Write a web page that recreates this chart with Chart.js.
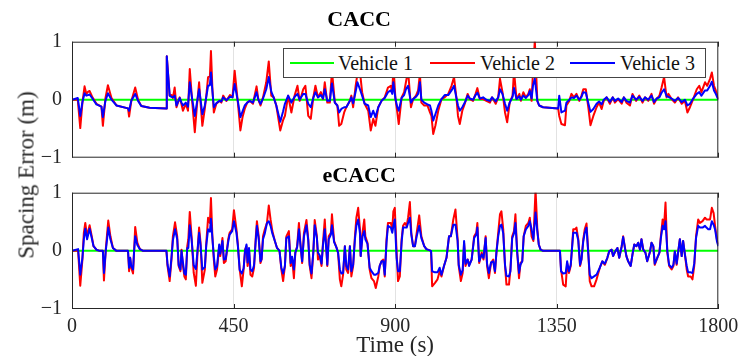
<!DOCTYPE html>
<html>
<head>
<meta charset="utf-8">
<script src="https://cdn.jsdelivr.net/npm/chart.js@4.4.0/dist/chart.umd.min.js"></script>
<style>
  body { margin: 0; background: #fff; }
  #wrap { position: relative; width: 741px; height: 356px; overflow: hidden; font-family: "Liberation Serif", serif; }
  canvas { position: absolute; left: 0; }
  #ylabel {
    position: absolute; left: 26px; top: 175px; white-space: nowrap;
    font-size: 23px; line-height: 1; color: #262626;
    transform: translate(-50%, -50%) rotate(-90deg);
  }
  #legend {
    position: absolute; left: 283px; top: 48px; width: 421px; height: 28px;
    border: 1px solid #444; background: #fff; z-index: 5;
  }
  #legend .ln { position: absolute; top: 13px; height: 2px; }
  #legend .tx { position: absolute; top: 0; line-height: 28px; font-size: 20px; color: #111; white-space: nowrap; }
</style>
</head>
<body>
<div id="wrap">
  <canvas id="caccChart" width="741" height="165" style="top:0"></canvas>
  <canvas id="ecaccChart" width="741" height="196" style="top:165px"></canvas>
  <div id="ylabel">Spacing Error (m)</div>
  <div id="legend">
    <div class="ln" style="left:6px;width:44px;background:#00ff00"></div>
    <span class="tx" style="left:54px">Vehicle 1</span>
    <div class="ln" style="left:146px;width:45px;background:#ff0000"></div>
    <span class="tx" style="left:196px">Vehicle 2</span>
    <div class="ln" style="left:286px;width:45px;background:#0000ff"></div>
    <span class="tx" style="left:336px">Vehicle 3</span>
  </div>
</div>
<script>
// axis ticks
const xTicks = [0, 450, 900, 1350, 1800];
const yTicks = [-1, 0, 1];

// Vehicle 1 (leader) has no spacing error
const v1Time = [0, 1800];
const v1Error = [0, 0];

// CACC panel, time (s) and spacing error (m)
const caccTime = [
  0, 16, 23, 29, 35, 40, 45, 49, 57, 68, 82, 86, 93, 100, 110, 124, 156, 159, 165, 176,
  184, 193, 216, 263, 264, 272, 277, 281, 286, 291, 300, 305, 309, 317, 323, 328, 335, 342, 348, 354,
  358, 363, 370, 374, 379, 384, 387, 391, 395, 402, 411, 416, 421, 430, 440, 447, 453, 462, 469, 475,
  481, 488, 495, 504, 514, 519, 525, 532, 541, 548, 555, 562, 569, 580, 588,
  593, 602, 611, 620, 628, 634, 639, 644, 650, 658, 665, 672, 678, 685, 693, 699, 704, 711, 718, 724,
  732, 739, 744, 750, 758, 764, 774, 778, 783, 790, 795, 802, 808, 815, 825, 832, 839, 845, 853, 862,
  871, 880, 888, 892, 895, 901, 906, 910, 918, 925, 930, 936, 944, 950, 958, 964, 969, 973, 981, 990,
  997, 1001, 1006, 1012, 1020, 1029, 1038, 1048, 1057, 1064, 1071, 1075, 1080, 1087, 1094, 1102, 1108, 1117, 1124, 1129,
  1136, 1145, 1154, 1164, 1170, 1180, 1187, 1192,
  1199, 1206, 1212, 1219, 1227, 1231, 1238, 1246, 1250, 1257, 1264, 1271, 1275, 1280, 1284, 1289, 1296, 1301, 1312, 1354,
  1357, 1363, 1373, 1377, 1385, 1391, 1398, 1405, 1413, 1419, 1424, 1431, 1438, 1444, 1452, 1461, 1468, 1475, 1481, 1489,
  1498, 1506, 1512, 1521, 1531, 1537, 1544, 1554, 1561, 1571, 1580, 1589, 1596, 1605, 1614, 1621, 1628, 1636, 1642, 1649,
  1656, 1661, 1670, 1679, 1688, 1698, 1707, 1714, 1721, 1730, 1740, 1747, 1753, 1763, 1769, 1777, 1782, 1788, 1793, 1800
];
const caccV2 = [
  0, 0, -0.49, -0.05, 0.23, 0.10, 0.14, 0.15, 0.04, -0.07, -0.12, -0.45, 0.02, 0.25, 0.03, -0.10, -0.15, -0.29, -0.03, 0.21,
  0.0, -0.11, -0.14, -0.15, 0.75, 0.07, 0.08, 0.03, 0.21, -0.13, 0.04, -0.08, -0.19, -0.07, -0.19, 0.53, -0.05, -0.56, -0.10, 0.30,
  -0.05, -0.45, -0.15, 0.07, 0.39, 0.40, 0.84, 0.20, -0.22, -0.07, -0.02, -0.05, 0.07, -0.02, 0.08, 0.04, 0.50, -0.05, -0.53, -0.30,
  -0.16, -0.05, -0.02, -0.07, 0.23, 0.0, -0.10, 0.04, 0.30, 0.66, 0.07, 0.04, -0.10, -0.53, -0.35,
  -0.28, 0.07, -0.22, 0.07, 0.24, -0.02, 0.07, 0.18, 0.24, -0.28, -0.33, 0.04, 0.24, 0.04, 0.13, 0.01, 0.30, -0.05, -0.05, 0.50,
  -0.05, -0.10, -0.45, -0.42, -0.22, -0.13, -0.02, 0.07, -0.13, 0.24, 0.45, 0.48, 0.13, -0.07, -0.19, -0.53, -0.33, -0.45, -0.13, -0.02,
  0.04, 0.21, 0.24, 0.13, 0.55, 0.01, -0.22, -0.42, 0.04, 0.13, 0.30, 0.50, -0.13, 0.01, 0.07, 0.16, 0.45, -0.05, -0.10, -0.10,
  -0.22, -0.28, -0.59, -0.45, -0.19, 0.01, 0.04, 0.10, 0.24, 0.39, 0.01, -0.28, -0.42, -0.19, -0.07, 0.10, 0.01, -0.02, 0.10, 0.20,
  0.01, 0.01, -0.02, -0.05, 0.04, -0.07, 0.04, 0.36,
  0.13, -0.22, -0.39, -0.05, 0.07, 0.50, 0.01, 0.10, -0.02, 0.13, 0.04, 0.10, 0.18, -0.02, 0.50, 1.02, -0.02, -0.10, -0.13, -0.15,
  -0.28, -0.42, -0.44, -0.10, -0.02, 0.10, 0.04, 0.10, -0.02, 0.07, 0.18, 0.18, -0.13, -0.44, -0.28, -0.13, -0.05, -0.16, -0.02, 0.04,
  -0.07, 0.04, -0.05, 0.01, -0.07, 0.04, -0.05, -0.10, 0.10, -0.02, 0.07, -0.05, 0.04, -0.02, 0.10, -0.07, 0.01, 0.07, 0.21, 0.39,
  0.04, 0.10, 0.01, -0.05, 0.04, -0.07, -0.02, -0.22, -0.13, 0.01, 0.18, 0.24, 0.13, 0.30, 0.24, 0.36, 0.47, 0.24, 0.16, 0.01
];
const caccV3 = [
  0, 0.03, -0.28, -0.04, 0.11, 0.07, 0.08, 0.09, 0.02, -0.08, -0.12, -0.30, -0.02, 0.11, 0.0, -0.10, -0.15, -0.19, -0.02, 0.10,
  -0.02, -0.11, -0.14, -0.15, 0.75, 0.07, 0.05, 0.04, 0.07, -0.10, 0.03, -0.05, -0.10, -0.05, -0.12, 0.30, 0.0, -0.28, -0.05, 0.18,
  0.0, -0.25, -0.10, 0.05, 0.24, 0.25, 0.47, 0.15, -0.13, -0.06, -0.02, -0.03, 0.04, -0.01, 0.05, 0.04, 0.27, -0.03, -0.30, -0.20,
  -0.10, -0.05, -0.02, -0.05, 0.13, 0.0, -0.07, 0.02, 0.18, 0.39, 0.14, 0.03, -0.10, -0.38, -0.20,
  -0.07, 0.07, -0.05, 0.05, 0.10, 0.0, 0.05, 0.10, 0.10, -0.07, -0.13, 0.03, 0.13, 0.04, 0.08, 0.02, 0.18, -0.02, -0.02, 0.28,
  -0.05, -0.10, -0.22, -0.16, -0.13, -0.13, -0.02, 0.04, -0.06, 0.14, 0.30, 0.18, 0.07, -0.07, -0.10, -0.30, -0.19, -0.30, -0.13, -0.02,
  0.03, 0.13, 0.16, 0.10, 0.30, 0.01, -0.13, -0.19, 0.03, 0.08, 0.18, 0.24, -0.05, 0.01, 0.05, 0.10, 0.30, 0.0, -0.05, -0.08,
  -0.10, -0.19, -0.36, -0.25, -0.10, 0.01, 0.08, 0.08, 0.16, 0.24, 0.02, -0.10, -0.19, -0.13, -0.05, 0.07, 0.02, 0.0, 0.08, 0.12,
  0.02, 0.04, 0.0, -0.02, 0.04, -0.03, 0.04, 0.18,
  0.10, -0.07, -0.19, -0.05, 0.05, 0.20, 0.01, 0.06, 0.0, 0.07, 0.03, 0.08, 0.15, 0.02, 0.25, 0.36, -0.02, -0.10, -0.13, -0.15,
  0.07, -0.22, -0.19, -0.05, 0.0, 0.04, 0.03, 0.07, 0.0, 0.05, 0.13, 0.12, -0.06, -0.21, -0.16, -0.07, -0.03, -0.08, 0.0, 0.04,
  -0.04, 0.04, -0.02, 0.02, -0.04, 0.04, -0.02, -0.05, 0.07, 0.0, 0.05, -0.02, 0.04, 0.0, 0.07, -0.04, 0.02, 0.04, 0.12, 0.18,
  0.06, 0.05, 0.02, -0.02, 0.03, -0.04, 0.0, -0.10, -0.07, 0.02, 0.10, 0.13, 0.07, 0.16, 0.16, 0.24, 0.31, 0.16, 0.10, 0.0
];

// eCACC panel
const ecaccTime = [
  0, 17, 23, 29, 33, 37, 42, 49, 55, 60, 68, 77, 86, 89, 94, 98, 101, 107, 114, 124,
  156, 159, 162, 165, 170, 173, 176, 182, 189, 198, 263, 266, 272, 277, 281, 287, 293, 297, 302, 305,
  309, 313, 317, 321, 324, 328, 333, 339, 345, 351, 354, 358, 363, 370, 374, 379, 384, 387, 391, 395,
  399, 404, 410, 413, 419, 423, 428, 435, 439, 446, 451, 458, 462, 467, 473, 478, 482, 486, 489, 493,
  497, 502, 507, 512, 515, 520, 525, 528, 532, 537, 543, 548, 553, 558, 565, 571, 578, 583, 588,
  593, 597, 604, 609, 613, 618, 622, 627, 632, 636, 641, 646, 653, 658, 662, 667, 672, 676, 682, 685,
  690, 695, 699, 704, 709, 711, 715, 721, 724, 730, 737, 741, 746, 750, 755, 760, 764, 769, 774, 778,
  783, 788, 792, 797, 802, 804, 809, 814, 817, 823, 829, 834, 841, 846, 853, 857, 862, 867, 871, 876,
  880, 888, 892, 895, 899, 904, 908, 913, 918, 922, 927, 932, 936, 941, 945, 950, 955, 960, 967, 973,
  981, 987, 1000, 1003, 1011, 1018, 1024, 1029, 1036, 1043, 1050, 1055, 1062, 1068, 1074, 1077, 1083, 1088, 1092, 1096,
  1102, 1106, 1113, 1120, 1126, 1129, 1134, 1141, 1146, 1152, 1156, 1161, 1167, 1173, 1178, 1182, 1187, 1192, 1196,
  1201, 1206, 1210, 1217, 1221, 1226, 1231, 1235, 1240, 1245, 1249, 1254, 1258, 1264, 1271, 1275, 1280, 1285, 1287, 1291,
  1296, 1300, 1305, 1312, 1359, 1362, 1368, 1375, 1379, 1384, 1389, 1396, 1401, 1405, 1410, 1415, 1419, 1424, 1428, 1433,
  1438, 1442, 1447, 1454, 1461, 1470, 1477, 1484, 1491, 1496, 1503, 1507, 1513, 1519, 1524, 1531, 1535, 1540, 1544, 1549,
  1556, 1561, 1566, 1572, 1577, 1582, 1586, 1591, 1597, 1602, 1610, 1614, 1619, 1623, 1630, 1636, 1640, 1645, 1649, 1653,
  1658, 1663, 1670, 1675, 1679, 1684, 1688, 1693, 1698, 1702, 1707, 1712, 1716, 1723, 1728, 1733, 1738, 1744, 1749, 1756,
  1763, 1767, 1772, 1777, 1782, 1787, 1791, 1796, 1800
];
const ecaccV2 = [
  0, 0, -0.60, -0.15, 0.31, 0.48, 0.25, 0.44, 0.25, 0.08, 0.02, 0, 0, -0.51, 0.02, 0.31, 0.52, 0.25, 0.05, 0,
  0, -0.35, -0.12, -0.29, -0.39, 0.0, 0.41, 0.14, 0.03, 0, 0, -0.26, -0.52, -0.15, 0.25, 0.49, 0.25, -0.26, -0.35, 0.02,
  -0.26, -0.44, -0.49, 0.08, 0.20, 0.67, 0.25, -0.38, -0.60, 0.14, 0.40, 0.14, -0.55, -0.32, 0.14, 0.57, 0.48, 0.91, 0.25, -0.15,
  -0.44, -0.32, 0.08, -0.09, 0.22, -0.21, -0.18, 0.20, 0.31, 0.37, 0.70, 0.37, 0.11, -0.32, -0.61, -0.32, 0.02, 0.08, -0.26, 0.02,
  -0.41, -0.44, -0.29, 0.25, 0.51, 0.25, -0.21, -0.15, 0.25, 0.37, 0.48, 0.78, 0.54, 0.34, 0.17, 0.05, 0, -0.32, -0.52,
  -0.26, 0.25, 0.34, -0.26, -0.12, -0.47, -0.03, 0.08, 0.48, 0.14, -0.21, 0.31, 0.53, 0.20, -0.26, -0.47, -0.03, 0.53, 0.25, -0.15,
  -0.09, -0.26, 0.14, 0.54, -0.03, -0.26, 0.25, 0.31, 0.63, 0.17, 0.05, -0.03, -0.49, -0.61, -0.41, 0.08, -0.32, -0.38, 0.08, -0.44,
  -0.26, 0.25, 0.57, 0.74, 0.37, -0.09, 0.31, 0.54, 0.25, 0.14, -0.32, -0.47, -0.52, -0.64, -0.44, -0.26, -0.18, -0.15, -0.44, 0.20,
  0.48, 0.48, 0.37, 0.68, 0.74, -0.01, -0.52, -0.44, 0.20, 0.43, 0.48, 0.43, 0.57, 0.84, 0.31, 0.08, 0.08, 0.31, 0.61, 0.25,
  0.08, 0.03, 0, -0.61, -0.55, -0.49, -0.35, -0.44, -0.26, -0.12, 0.25, 0.25, 0.54, 0.71, 0.20, -0.26, -0.52, -0.38, 0.14, -0.26,
  -0.15, -0.24, -0.15, 0.25, 0.31, 0.48, -0.21, -0.03, -0.15, 0.25, -0.26, -0.47, -0.21, -0.15, -0.38, -0.03, 0.31, 0.63, 0.68,
  0.37, -0.26, -0.58, -0.58, -0.32, 0.25, 0.34, 0.63, -0.03, -0.47, -0.21, -0.18, 0.25, 0.43, 0.48, 0.57, 0.25, 0.17, 0.48, 1.05,
  0.37, 0.11, 0.02, 0, 0, -0.32, -0.58, -0.61, -0.21, -0.38, -0.26, 0.37, 0.37, 0.40, 0.20, -0.26, -0.15, 0.20, 0.37, 0.47,
  -0.03, -0.52, -0.61, -0.61, -0.49, -0.29, -0.18, -0.24, -0.12, -0.01, 0.02, -0.09, -0.01, 0.05, -0.12, 0.08, 0.25, 0.05, -0.09, -0.18,
  -0.26, -0.06, 0.11, 0.08, 0.14, 0.02, 0.20, 0.02, -0.03, -0.18, -0.01, 0.14, 0.08, -0.24, -0.12, -0.03, 0.25, 0.54, 0.43, 0.83,
  -0.03, -0.26, -0.32, -0.26, -0.01, -0.24, -0.03, 0.20, -0.09, 0.17, -0.06, -0.32, -0.44, -0.44, -0.49, -0.26, 0.25, 0.54, 0.48, 0.51,
  0.57, 0.54, 0.54, 0.54, 0.74, 0.65, 0.43, 0.20, 0.11
];
const ecaccV3 = [
  0, 0.03, -0.41, -0.12, 0.20, 0.38, 0.20, 0.38, 0.22, 0.08, 0.02, 0, 0, -0.38, 0.0, 0.22, 0.40, 0.20, 0.05, 0,
  0, -0.29, -0.12, -0.26, -0.32, 0.0, 0.25, 0.10, 0.03, 0, 0, -0.23, -0.44, -0.12, 0.18, 0.37, 0.20, -0.24, -0.32, 0.0,
  -0.20, -0.39, -0.41, 0.05, 0.05, 0.44, 0.20, -0.25, -0.31, 0.10, 0.31, 0.10, -0.32, -0.28, 0.10, 0.37, 0.33, 0.55, 0.22, -0.10,
  -0.32, -0.26, 0.11, -0.05, 0.17, -0.15, -0.14, 0.15, 0.28, 0.34, 0.51, 0.31, 0.08, -0.33, -0.39, -0.30, 0.0, 0.11, -0.20, 0.05,
  -0.32, -0.35, -0.25, 0.20, 0.43, 0.20, -0.18, -0.14, 0.20, 0.30, 0.48, 0.51, 0.43, 0.30, 0.17, 0.05, 0, -0.29, -0.39,
  -0.26, 0.22, 0.25, -0.21, -0.10, -0.32, -0.03, 0.06, 0.37, 0.12, -0.18, 0.25, 0.44, 0.18, -0.24, -0.39, -0.03, 0.44, 0.22, -0.03,
  -0.08, -0.22, 0.10, 0.37, -0.03, -0.24, 0.20, 0.28, 0.44, 0.15, 0.05, -0.03, -0.32, -0.39, -0.38, 0.08, -0.26, -0.32, 0.08, -0.35,
  -0.24, 0.20, 0.43, 0.54, 0.30, -0.09, 0.25, 0.34, 0.20, 0.12, -0.29, -0.35, -0.41, -0.41, -0.38, -0.26, -0.18, -0.18, -0.41, 0.15,
  0.43, 0.40, 0.31, 0.43, 0.54, -0.12, -0.35, -0.35, 0.15, 0.40, 0.40, 0.40, 0.48, 0.57, 0.28, 0.08, 0.08, 0.25, 0.43, 0.22,
  0.08, 0.03, 0, -0.35, -0.37, -0.37, -0.29, -0.41, -0.26, -0.12, 0.25, 0.25, 0.45, 0.45, 0.17, -0.24, -0.41, -0.33, 0.17, -0.22,
  -0.15, -0.26, -0.15, 0.22, 0.28, 0.40, -0.18, -0.06, -0.12, 0.22, -0.22, -0.38, -0.20, -0.18, -0.35, -0.03, 0.25, 0.43, 0.45,
  0.30, -0.24, -0.43, -0.44, -0.35, 0.22, 0.30, 0.48, -0.03, -0.38, -0.24, -0.18, 0.25, 0.37, 0.43, 0.51, 0.37, 0.20, 0.35, 0.66,
  0.34, 0.11, 0.02, 0, 0, -0.35, -0.39, -0.38, -0.18, -0.35, -0.24, 0.31, 0.31, 0.31, 0.18, -0.24, -0.14, 0.17, 0.31, 0.40,
  -0.06, -0.41, -0.47, -0.44, -0.41, -0.29, -0.18, -0.22, -0.12, -0.01, 0.02, -0.09, -0.01, 0.05, -0.12, 0.08, 0.24, 0.05, -0.09, -0.18,
  -0.26, -0.06, 0.11, 0.08, 0.14, 0.02, 0.20, 0.02, -0.03, -0.18, -0.01, 0.14, 0.08, -0.22, -0.12, -0.03, 0.22, 0.43, 0.37, 0.51,
  0.0, -0.24, -0.29, -0.24, -0.01, -0.22, -0.03, 0.20, -0.09, 0.17, -0.06, -0.26, -0.37, -0.37, -0.38, -0.22, 0.22, 0.43, 0.40, 0.40,
  0.43, 0.40, 0.37, 0.37, 0.51, 0.45, 0.37, 0.17, 0.08
];

const FONT = "Liberation Serif";
const TEXT = "#262626";

function toPoints(times, values) {
  return times.map((t, i) => ({ x: t, y: values[i] }));
}

// keep chart.js from shrinking the plot to make room for edge labels
function noEdgePadding(s) {
  s.paddingTop = 0;
  s.paddingBottom = 0;
  s.paddingLeft = 0;
  s.paddingRight = 0;
}

// frame box + inward tick marks, like the MATLAB axes
const frameTicks = {
  id: "frameTicks",
  afterDatasetsDraw(chart) {
    const { ctx, chartArea: a, scales } = chart;
    ctx.save();
    ctx.strokeStyle = TEXT;
    ctx.lineWidth = 1;
    ctx.strokeRect(a.left + 0.5, a.top + 0.5, a.width - 1, a.height - 1);
    ctx.beginPath();
    scales.x.ticks.forEach(t => {
      const px = Math.round(scales.x.getPixelForValue(t.value)) + 0.5;
      ctx.moveTo(px, a.top);
      ctx.lineTo(px, a.top + 5);
      ctx.moveTo(px, a.bottom);
      ctx.lineTo(px, a.bottom - 5);
    });
    ctx.stroke();
    ctx.restore();
  }
};

function makePanel(canvasId, cfg) {
  const datasets = [
    { label: "Vehicle 1", data: toPoints(v1Time, v1Error), borderColor: "#00ff00", order: 2 },
    { label: "Vehicle 2", data: toPoints(cfg.time, cfg.v2), borderColor: "#ff0000", order: 1 },
    { label: "Vehicle 3", data: toPoints(cfg.time, cfg.v3), borderColor: "#0000ff", order: 0 }
  ].map(d => ({ ...d, borderWidth: 2, pointRadius: 0, tension: 0, borderJoinStyle: "round", fill: false }));

  return new Chart(document.getElementById(canvasId).getContext("2d"), {
    type: "line",
    data: { datasets },
    options: {
      responsive: false,
      animation: false,
      events: [],
      devicePixelRatio: 1,
      layout: { padding: { left: 0, right: 22.7, top: 0, bottom: cfg.padBottom } },
      plugins: {
        legend: { display: false },
        tooltip: { enabled: false },
        title: {
          display: true,
          text: cfg.title,
          color: "#000",
          font: { family: FONT, size: 22, weight: "bold", lineHeight: 1 },
          padding: cfg.titlePad
        }
      },
      scales: {
        x: {
          type: "linear",
          min: 0,
          max: 1800,
          afterBuildTicks: s => { s.ticks = xTicks.map(v => ({ value: v })); },
          afterFit: s => { s.height = cfg.xHeight; noEdgePadding(s); },
          border: { display: false },
          grid: {
            drawTicks: false,
            lineWidth: 1,
            color: c => (c.tick && c.tick.value > 0 && c.tick.value < 1800) ? "#e2e2e2" : "rgba(0,0,0,0)"
          },
          ticks: {
            display: cfg.showX,
            padding: 6,
            color: TEXT,
            font: { family: FONT, size: 20 },
            maxRotation: 0,
            callback: v => String(v)
          },
          title: {
            display: cfg.showX,
            text: "Time (s)",
            color: TEXT,
            font: { family: FONT, size: 23, lineHeight: 1.2 },
            padding: { top: 0, bottom: 1 }
          }
        },
        y: {
          min: -1,
          max: 1,
          afterBuildTicks: s => { s.ticks = yTicks.map(v => ({ value: v })); },
          afterFit: s => { s.width = 72; noEdgePadding(s); },
          border: { display: false },
          grid: { display: false, drawTicks: false },
          ticks: {
            padding: 10,
            color: TEXT,
            font: { family: FONT, size: 20 },
            callback: v => (v < 0 ? "\u2212" + Math.abs(v) : String(v))
          }
        }
      }
    },
    plugins: [frameTicks]
  });
}

// 1. CACC (top)
makePanel("caccChart", {
  title: "CACC", time: caccTime, v2: caccV2, v3: caccV3,
  titlePad: { top: 9, bottom: 10.7 }, padBottom: 7.3, xHeight: 0, showX: false
});

// 2. eCACC (bottom)
makePanel("ecaccChart", {
  title: "eCACC", time: ecaccTime, v2: ecaccV2, v3: ecaccV3,
  titlePad: { top: 0, bottom: 5.7 }, padBottom: 0, xHeight: 52, showX: true
});
</script>
</body>
</html>
